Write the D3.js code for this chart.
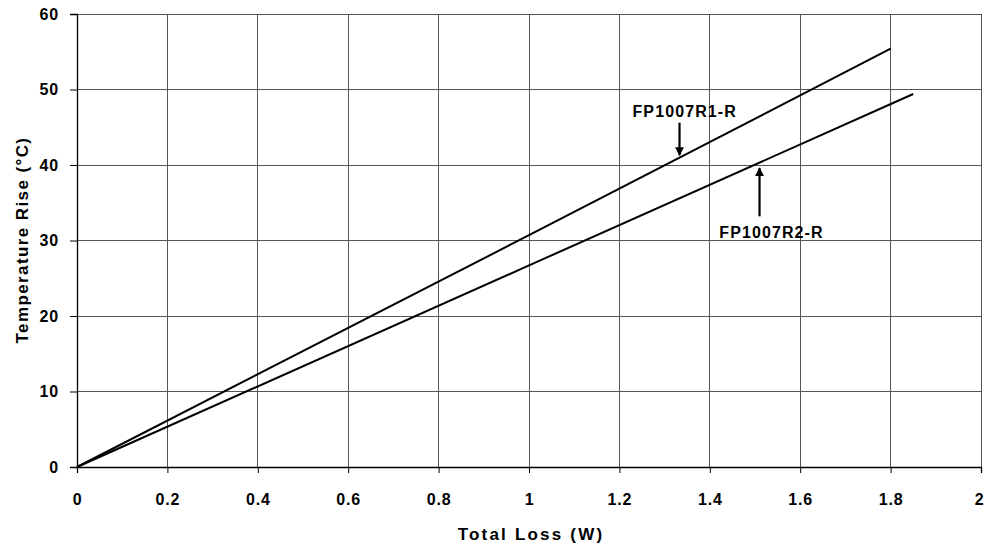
<!DOCTYPE html>
<html>
<head>
<meta charset="utf-8">
<script src="https://cdn.jsdelivr.net/npm/d3@7"></script>
<style>
  body { margin: 0; background: #fff; }
  text { font-family: "Liberation Sans", Arial, sans-serif; font-weight: bold; }
</style>
</head>
<body>
<svg id="chart"></svg>
<script>
// Данные: две кривые нагрева
const lossR1 = [0, 1.0, 1.8];
const riseR1 = [0, 30.7, 55.4];
const lossR2 = [0, 1.0, 1.85];
const riseR2 = [0, 26.7, 49.4];

const xTicks = [0, 0.2, 0.4, 0.6, 0.8, 1, 1.2, 1.4, 1.6, 1.8, 2];
const yTicks = [0, 10, 20, 30, 40, 50, 60];

const width = 984;
const height = 548;
const margin = { left: 77, right: 3, top: 14, bottom: 81 };

const svg = d3.select("#chart")
    .attr("width", width)
    .attr("height", height);

const xScale = d3.scaleLinear()
    .domain([0, 2])
    .range([margin.left, width - margin.right]);

const yScale = d3.scaleLinear()
    .domain([0, 60])
    .range([height - margin.bottom, margin.top]);

// Сетка
svg.append("g")
    .selectAll("line")
    .data(xTicks.slice(1))
    .join("line")
    .attr("x1", d => xScale(d)).attr("x2", d => xScale(d))
    .attr("y1", yScale(60)).attr("y2", yScale(0))
    .attr("stroke", "#555").attr("stroke-width", 1)
    .attr("shape-rendering", "crispEdges");

svg.append("g")
    .selectAll("line")
    .data(yTicks.slice(1))
    .join("line")
    .attr("x1", xScale(0)).attr("x2", xScale(2))
    .attr("y1", d => yScale(d)).attr("y2", d => yScale(d))
    .attr("stroke", "#555").attr("stroke-width", 1)
    .attr("shape-rendering", "crispEdges");

// Оси
const xAxis = svg.append("g")
    .attr("transform", `translate(0, ${yScale(0)})`)
    .call(d3.axisBottom(xScale).tickValues(xTicks).tickSize(6).tickPadding(21)
        .tickFormat(d => d3.format("")(d)));
xAxis.select(".domain").attr("stroke", "#000").attr("stroke-width", 1.3);
xAxis.selectAll("text").attr("font-size", 16).attr("letter-spacing", 0.8)
    .attr("font-family", "Liberation Sans, Arial, sans-serif").attr("font-weight", "bold").attr("fill", "#000")
    .attr("dx", d => d === 2 ? -2 : 0);

const yAxis = svg.append("g")
    .attr("transform", `translate(${xScale(0)}, 0)`)
    .call(d3.axisLeft(yScale).tickValues(yTicks).tickSize(7).tickPadding(11));
yAxis.select(".domain").attr("stroke", "#000").attr("stroke-width", 1.3);
yAxis.selectAll("text").attr("font-size", 16).attr("letter-spacing", 0.8)
    .attr("font-family", "Liberation Sans, Arial, sans-serif").attr("font-weight", "bold").attr("fill", "#000");

// Линии
const line = d3.line()
    .x(d => xScale(d[0]))
    .y(d => yScale(d[1]));

svg.append("path")
    .datum(d3.zip(lossR1, riseR1))
    .attr("fill", "none").attr("stroke", "#000").attr("stroke-width", 2)
    .attr("d", line);

svg.append("path")
    .datum(d3.zip(lossR2, riseR2))
    .attr("fill", "none").attr("stroke", "#000").attr("stroke-width", 2)
    .attr("d", line);

// Подписи со стрелками
svg.append("defs").append("marker")
    .attr("id", "arrow")
    .attr("viewBox", "0 0 10 10")
    .attr("refX", 9).attr("refY", 5)
    .attr("markerWidth", 4).attr("markerHeight", 4.5)
    .attr("orient", "auto")
    .append("path").attr("d", "M0,0 L10,5 L0,10 z").attr("fill", "#000");

svg.append("text")
    .attr("x", xScale(1.229)).attr("y", yScale(46.4))
    .attr("font-size", 16).attr("letter-spacing", 1.1)
    .text("FP1007R1-R");
svg.append("line")
    .attr("x1", xScale(1.333)).attr("x2", xScale(1.333))
    .attr("y1", yScale(45.6)).attr("y2", yScale(41.3))
    .attr("stroke", "#000").attr("stroke-width", 2.2)
    .attr("marker-end", "url(#arrow)");

svg.append("text")
    .attr("x", xScale(1.421)).attr("y", yScale(30.35))
    .attr("font-size", 16).attr("letter-spacing", 1.1)
    .text("FP1007R2-R");
svg.append("line")
    .attr("x1", xScale(1.51)).attr("x2", xScale(1.51))
    .attr("y1", yScale(33.2)).attr("y2", yScale(39.6))
    .attr("stroke", "#000").attr("stroke-width", 2.2)
    .attr("marker-end", "url(#arrow)");

// Заголовки осей
svg.append("text")
    .attr("x", 531).attr("y", 540)
    .attr("text-anchor", "middle")
    .attr("font-size", 17).attr("letter-spacing", 2.2)
    .text("Total Loss (W)");

svg.append("text")
    .attr("transform", `translate(27.5, 240) rotate(-90)`)
    .attr("text-anchor", "middle")
    .attr("font-size", 17).attr("letter-spacing", 1.4)
    .text("Temperature Rise (°C)");
</script>
</body>
</html>
